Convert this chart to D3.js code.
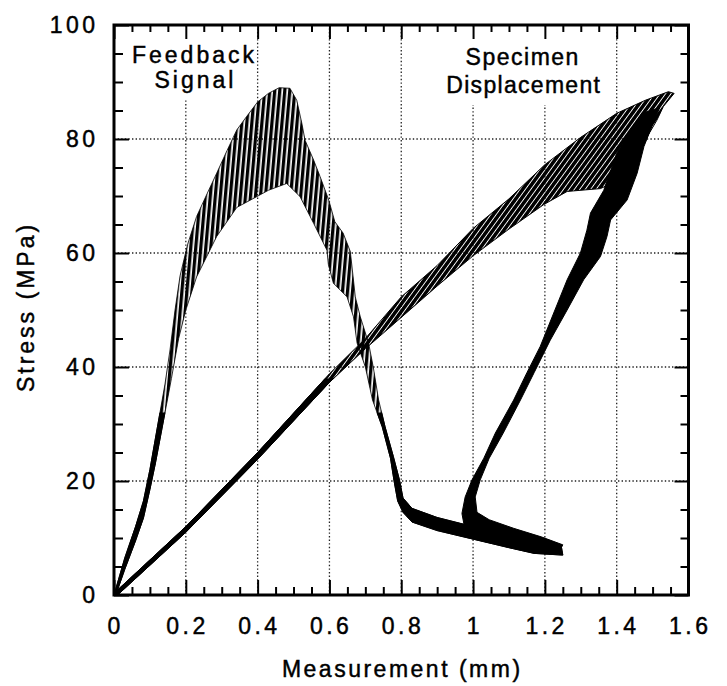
<!DOCTYPE html>
<html><head><meta charset="utf-8">
<script src="https://cdn.jsdelivr.net/npm/d3@7"></script>
<style>body{margin:0;background:#fff}</style>
</head><body>
<svg id="c" width="727" height="686"></svg>
<script>
// ---------- data ----------
const xTickValues = [0, 0.2, 0.4, 0.6, 0.8, 1, 1.2, 1.4, 1.6];
const xTickLabels = ["0", "0.2", "0.4", "0.6", "0.8", "1", "1.2", "1.4", "1.6"];
const yTickValues = [0, 20, 40, 60, 80, 100];
const yTickLabels = ["0", "20", "40", "60", "80", "100"];
const xMinorTicks = [0.05,0.1,0.15,0.25,0.3,0.35,0.45,0.5,0.55,0.65,0.7,0.75,0.85,0.9,0.95,1.05,1.1,1.15,1.25,1.3,1.35,1.45,1.5,1.55];
const yMinorTicks = [5,10,15,25,30,35,45,50,55,65,70,75,85,90,95];
const xTitle = "Measurement (mm)";
const yTitle = "Stress (MPa)";
const labelFeedback = ["Feedback", "Signal"];
const labelDisplacement = ["Specimen", "Displacement"];

// Feedback signal band: outer envelope (up the left, over the peak, down the right, tail top)
const feedbackOuter = [[0,0],[0.03,6.5],[0.06,12],[0.082,16.5],[0.1,22],[0.114,27],[0.128,32],[0.142,37],[0.156,43],[0.17,50],[0.184,56],[0.205,61.5],[0.23,66.4],[0.26,70.5],[0.286,74],[0.315,78],[0.342,81.6],[0.37,84],[0.4,86.5],[0.43,88],[0.46,89],[0.49,88.9],[0.509,86.8],[0.523,82.8],[0.532,79.8],[0.556,76.3],[0.574,73.4],[0.598,69.3],[0.615,65.5],[0.638,63.5],[0.658,60.3],[0.666,55.8],[0.672,52.3],[0.686,48.8],[0.709,44.2],[0.722,40],[0.737,34.2],[0.755,29.5],[0.778,24.3],[0.795,20.2],[0.805,17],[0.83,15.2],[0.9,13.6],[1.0,12.0],[1.1,10.5],[1.2,9.2],[1.245,8.8]];
// Feedback signal band: inner envelope (tail bottom, back up and under the peak, down to origin)
const feedbackInner = [[1.25,7.0],[1.17,7.3],[1.1,8.3],[1.0,9.8],[0.9,11.3],[0.83,12.8],[0.805,14.5],[0.79,16.5],[0.78,20],[0.77,24],[0.747,29.5],[0.72,34.2],[0.7,40],[0.677,44.2],[0.667,48.8],[0.649,52.3],[0.611,54.7],[0.597,58],[0.593,60.5],[0.556,65.2],[0.518,69.9],[0.481,72.2],[0.43,71],[0.398,69.9],[0.342,68],[0.286,62.9],[0.23,55.8],[0.2,50],[0.18,45],[0.16,38],[0.145,33],[0.13,28],[0.115,23],[0.1,18.5],[0.082,13.5],[0.06,9.5],[0.03,4.5],[0.005,0]];

// Specimen displacement, loading band
const dispLoadUpper = [[0,0.3],[0.2,12],[0.4,25],[0.6,38.8],[0.7,45],[0.8,52.3],[0.9,57.8],[1.0,64.3],[1.1,69.5],[1.2,75.5],[1.3,80.3],[1.4,84.5],[1.48,86.8],[1.544,88.3]];
const dispLoadLower = [[1.56,88],[1.53,85.7],[1.512,83.3],[1.485,80.4],[1.45,76],[1.41,73],[1.355,71.3],[1.262,70.8],[1.197,68.5],[1.1,64.2],[1.0,59.5],[0.9,54.2],[0.8,48.7],[0.7,43.2],[0.6,37.3],[0.4,23.8],[0.2,11],[0.01,0]];
// Specimen displacement, post-peak branch
const dispUnloadLeft = [[1.47,84.5],[1.42,79.5],[1.4,77.5],[1.364,71],[1.327,67],[1.317,64],[1.299,60],[1.262,55.3],[1.187,43.6],[1.15,39],[1.113,34.2],[1.062,28.4],[1.03,24],[0.997,20.2],[0.978,17.2],[0.969,14.3],[0.975,12.3],[0.995,11.3],[1.05,10.5],[1.1,9.8],[1.17,8.8],[1.24,7.6]];
const dispUnloadRight = [[1.25,8.8],[1.19,10.2],[1.113,11.7],[1.045,13.2],[1.011,14.5],[1.006,17.2],[1.02,20.2],[1.045,24],[1.084,28.4],[1.132,34.2],[1.17,39],[1.215,44.7],[1.262,50],[1.308,55.3],[1.355,59.4],[1.373,62.9],[1.383,65.8],[1.429,69.3],[1.457,74],[1.476,78.7],[1.5,82.5],[1.52,85.5]];

// ---------- chart ----------
const svg = d3.select("#c");
svg.append("rect").attr("width",727).attr("height",686).attr("fill","#fff");
const x = d3.scaleLinear().domain([0,1.6]).range([114,688.5]);
const y = d3.scaleLinear().domain([0,100]).range([595,25]);
const FONT = "'Liberation Sans', Arial, Helvetica, sans-serif";

const defs = svg.append("defs");
const pf = defs.append("pattern").attr("id","hatchF").attr("patternUnits","userSpaceOnUse")
  .attr("width",5).attr("height",10).attr("patternTransform","rotate(5)");
pf.append("rect").attr("x",0).attr("y",0).attr("width",3.3).attr("height",10).attr("fill","#000");
const pd = defs.append("pattern").attr("id","hatchD").attr("patternUnits","userSpaceOnUse")
  .attr("width",4.4).attr("height",10).attr("patternTransform","rotate(36)");
pd.append("rect").attr("x",0).attr("y",0).attr("width",3.5).attr("height",10).attr("fill","#000");
defs.append("clipPath").attr("id","lowF").append("rect")
  .attr("x",x(0)).attr("y",y(32)).attr("width",x(1.6)-x(0)).attr("height",y(0)-y(32));
defs.append("clipPath").attr("id","lowD").append("rect")
  .attr("x",x(0)).attr("y",y(38)).attr("width",x(1.6)-x(0)).attr("height",y(0)-y(38));

// grid
const grid = svg.append("g").attr("stroke","#222").attr("stroke-width",1.3).attr("stroke-dasharray","1.4,2.2");
xTickValues.slice(1,-1).forEach(v => grid.append("line").attr("x1",x(v)).attr("x2",x(v)).attr("y1",y(0)).attr("y2",y(100)));
yTickValues.slice(1,-1).forEach(v => grid.append("line").attr("y1",y(v)).attr("y2",y(v)).attr("x1",x(0)).attr("x2",x(1.6)));

// white boxes behind annotations
svg.append("rect").attr("x",128).attr("y",27).attr("width",128).attr("height",73).attr("fill","#fff");
svg.append("rect").attr("x",440).attr("y",27).attr("width",166).attr("height",78).attr("fill","#fff");

// data
const line = d3.line().x(d => x(d[0])).y(d => y(d[1])).curve(d3.curveLinearClosed);
const fPoly = feedbackOuter.concat(feedbackInner);
const dLoad = dispLoadUpper.concat(dispLoadLower);
const dUnload = dispUnloadLeft.concat(dispUnloadRight);

svg.append("path").attr("d",line(dLoad)).attr("fill","url(#hatchD)").attr("stroke","#000").attr("stroke-width",1);
svg.append("path").attr("d",line(dLoad)).attr("fill","#000").attr("stroke","#000").attr("stroke-width",1).attr("clip-path","url(#lowD)");
svg.append("path").attr("d",line(dUnload)).attr("fill","#000").attr("stroke","#000").attr("stroke-width",1);
svg.append("path").attr("d",line(fPoly)).attr("fill","url(#hatchF)").attr("stroke","#000").attr("stroke-width",0.8);
svg.append("path").attr("d",line(fPoly)).attr("fill","#000").attr("stroke","#000").attr("stroke-width",1).attr("clip-path","url(#lowF)");

// frame
svg.append("rect").attr("x",x(0)).attr("y",y(100)).attr("width",x(1.6)-x(0)).attr("height",y(0)-y(100))
  .attr("fill","none").attr("stroke","#000").attr("stroke-width",3);

// ticks (inward)
function ticks(axisFn, scale, vals, size, tr) {
  const g = svg.append("g").attr("transform",tr)
    .call(axisFn(scale).tickValues(vals).tickSize(-size).tickFormat(""));
  g.select(".domain").remove();
  g.selectAll(".tick line").attr("stroke","#000").attr("stroke-width",2);
}
ticks(d3.axisBottom, x, xTickValues, 15, `translate(0,${y(0)})`);
ticks(d3.axisBottom, x, xMinorTicks, 8, `translate(0,${y(0)})`);
ticks(d3.axisTop, x, xTickValues, 14, `translate(0,${y(100)})`);
ticks(d3.axisTop, x, xMinorTicks, 7, `translate(0,${y(100)})`);
ticks(d3.axisLeft, y, yTickValues, 15, `translate(${x(0)},0)`);
ticks(d3.axisLeft, y, yMinorTicks, 9, `translate(${x(0)},0)`);
ticks(d3.axisRight, y, yTickValues, 14, `translate(${x(1.6)},0)`);
ticks(d3.axisRight, y, yMinorTicks, 8, `translate(${x(1.6)},0)`);

// text helper
function txt(xp, yp, s, anchor, ls, extra) {
  const t = svg.append("text").attr("x",xp).attr("y",yp).attr("text-anchor",anchor)
    .attr("font-family",FONT).attr("font-size",23).attr("letter-spacing",ls)
    .attr("fill","#000").attr("stroke","#000").attr("stroke-width",0.45).text(s);
  if (extra) t.attr("transform",extra);
  return t;
}
const LS = 3.5;
xTickValues.forEach((v,i) => txt(x(v)+LS/2, 634, xTickLabels[i], "middle", LS));
yTickValues.forEach((v,i) => txt(95+LS, y(v)+8, yTickLabels[i], "end", LS));

// titles
txt(401+1.25, 677, xTitle, "middle", 2.5);
txt(0, 0, yTitle, "middle", 3, "translate(34,307) rotate(-90)");

// annotations
txt(193+1.5, 63, labelFeedback[0], "middle", 3);
txt(194+1.5, 88, labelFeedback[1], "middle", 3);
txt(522+0.75, 65, labelDisplacement[0], "middle", 1.5);
txt(523+0.75, 93, labelDisplacement[1], "middle", 1.3);
</script>
</body></html>
